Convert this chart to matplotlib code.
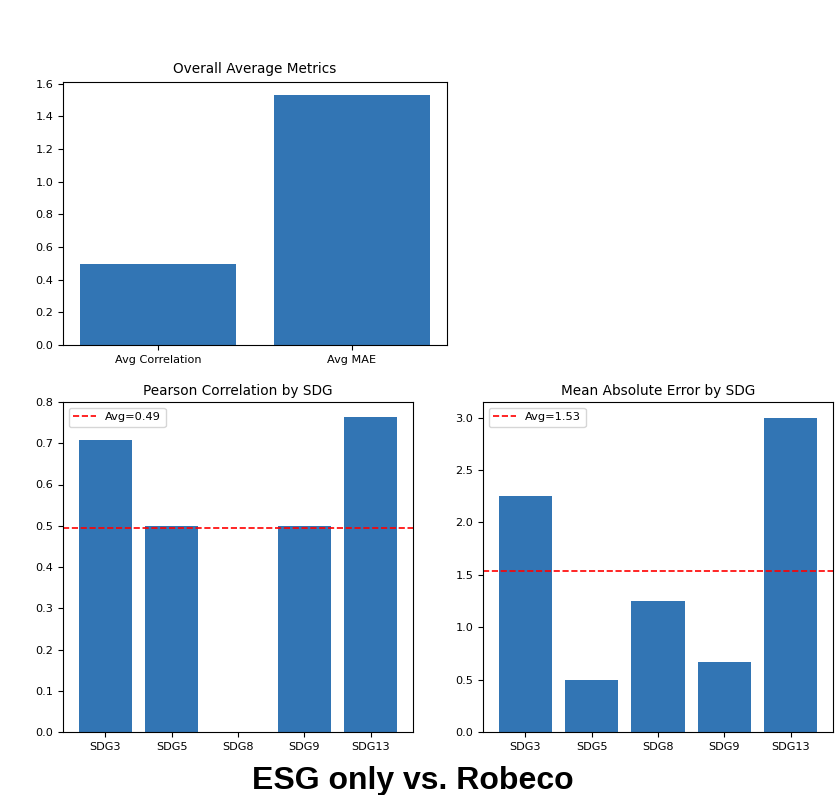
import matplotlib
matplotlib.use("Agg")
import matplotlib.pyplot as plt

overall_labels = ["Avg Correlation", "Avg MAE"]
overall_values = [0.494, 1.533]

sdg_labels = ["SDG3", "SDG5", "SDG8", "SDG9", "SDG13"]
corr_values = [0.707, 0.5, 0.0, 0.5, 0.763]
mae_values = [2.25, 0.5, 1.25, 0.667, 3.0]

corr_avg = 0.494
mae_avg = 1.533

BAR = "#3275b4"
W, H = 838, 795
fig = plt.figure(figsize=(W / 100, H / 100), dpi=100)

def px_axes(x0, y0, x1, y1):
    return fig.add_axes([x0 / W, 1 - y1 / H, (x1 - x0) / W, (y1 - y0) / H])

TICK = 8.1
TITLE = 9.8
LEG = 8.2

ax1 = px_axes(63, 82, 447, 345)
ax1.bar(overall_labels, overall_values, color=BAR)
ax1.set_title("Overall Average Metrics", fontsize=TITLE, pad=6.5)
ax1.tick_params(labelsize=TICK)

ax2 = px_axes(63, 402, 413, 732)
ax2.bar(sdg_labels, corr_values, color=BAR)
ax2.axhline(corr_avg, color="red", linestyle="--", linewidth=1.2, label=f"Avg={corr_avg:.2f}")
ax2.set_ylim(0, 0.8)
ax2.set_title("Pearson Correlation by SDG", fontsize=TITLE, pad=5)
ax2.tick_params(labelsize=TICK)
ax2.legend(loc="upper left", fontsize=LEG)

ax3 = px_axes(483, 402, 833, 732)
ax3.bar(sdg_labels, mae_values, color=BAR)
ax3.axhline(mae_avg, color="red", linestyle="--", linewidth=1.2, label=f"Avg={mae_avg:.2f}")
ax3.set_title("Mean Absolute Error by SDG", fontsize=TITLE, pad=5)
ax3.tick_params(labelsize=TICK)
ax3.legend(loc="upper left", fontsize=LEG)

fig.text(413 / W, 1 - 781 / H, "ESG only vs. Robeco", ha="center", va="center",
         fontsize=23, fontweight="bold", family=["Liberation Sans", "DejaVu Sans"])

fig.savefig("out.png", dpi=100)
